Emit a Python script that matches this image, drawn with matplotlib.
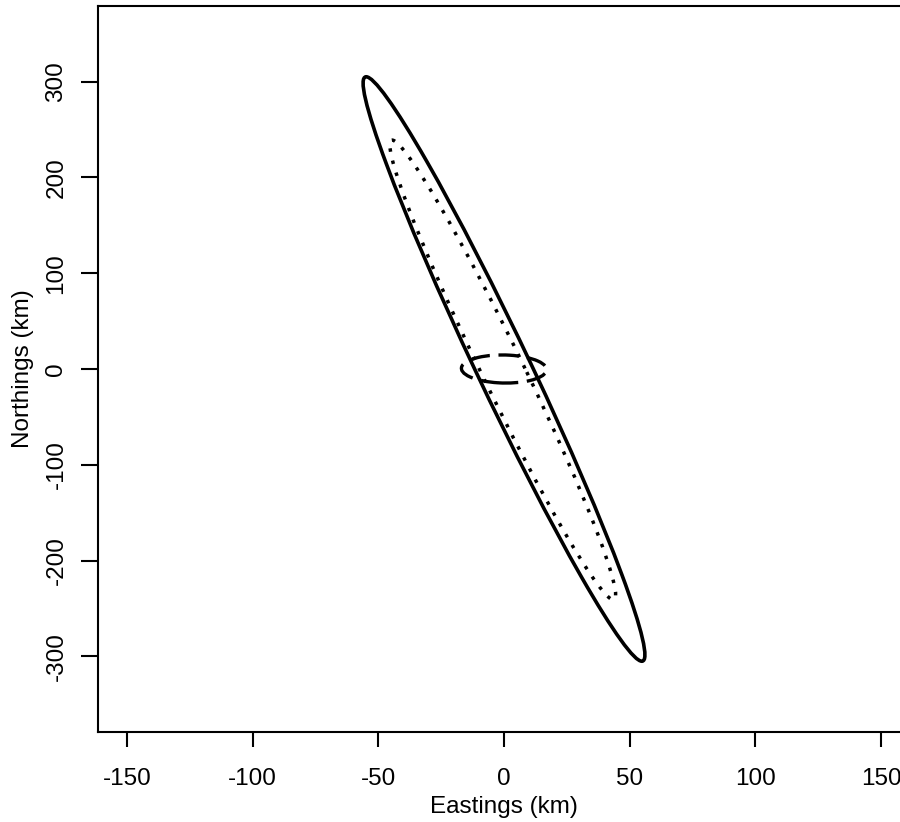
import matplotlib
matplotlib.use("Agg")
import matplotlib.pyplot as plt
from matplotlib.patches import Ellipse

plt.rcParams['font.family'] = ['Liberation Sans', 'DejaVu Sans']

# Ellipse parameters (data units): centre, semi-major, semi-minor, angle (deg)
names = ["solid", "dotted", "dashed"]
centre_x = [0.0, -0.5, 0.0]
centre_y = [0.0, -1.0, 0.0]
semi_major = [310.0, 244.0, 17.0]
semi_minor = [11.5, 9.0, 14.6]
angle_deg = [100.2, 100.4, -9.0]

x_ticks = [-150, -100, -50, 0, 50, 100, 150]
y_ticks = [-300, -200, -100, 0, 100, 200, 300]
x_limits = (-161.5, 161.5)
y_limits = (-379, 379)

styles = {
    "solid": dict(linestyle="-", linewidth=2.6),
    "dotted": dict(linestyle=(0, (1, 2.6)), linewidth=2.5),
    "dashed": dict(linestyle=(0, (6, 2.6)), linewidth=2.4),
}

W, H = 900, 822
fig = plt.figure(figsize=(W / 100, H / 100), dpi=100)
left, right, top, bottom = 98, 910, 6, 732
ax = fig.add_axes([left / W, (H - bottom) / H, (right - left) / W, (bottom - top) / H])

for n, cx, cy, a, b, ang in zip(names, centre_x, centre_y, semi_major, semi_minor, angle_deg):
    e = Ellipse((cx, cy), 2 * a, 2 * b, angle=ang, fill=False, edgecolor="black",
                capstyle="butt", joinstyle="round", **styles[n])
    ax.add_patch(e)

fs = 17.5
ax.set_xlim(*x_limits)
ax.set_ylim(*y_limits)
ax.set_xticks(x_ticks)
ax.set_yticks(y_ticks)
ax.set_xticklabels([str(v) for v in x_ticks], fontsize=fs)
ax.set_yticklabels([str(v) for v in y_ticks], fontsize=fs, rotation=90, va="center")
ax.tick_params(axis="x", length=11, width=1.5, pad=15)
ax.tick_params(axis="y", length=12, width=1.5, pad=10)
for s in ax.spines.values():
    s.set_linewidth(1.5)
ax.set_xlabel("Eastings (km)", fontsize=fs, labelpad=4)
ax.set_ylabel("Northings (km)", fontsize=fs, labelpad=8)

fig.savefig("out.png", dpi=100)
